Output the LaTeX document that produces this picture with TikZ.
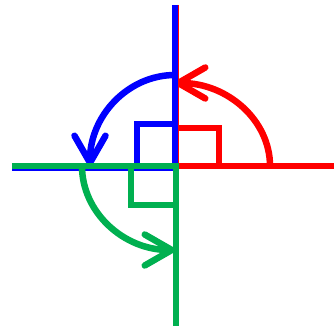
\documentclass[tikz,border=0pt]{standalone}
\usepackage{xcolor}
\usepackage{tikz}
\usetikzlibrary{arrows.meta}
\definecolor{redc}{HTML}{FF0000}
\definecolor{bluec}{HTML}{0000FF}
\definecolor{greenc}{HTML}{00B050}
\tikzset{
  axl/.style={line width=6.5pt},
  sq/.style={line width=6pt},
  turn/.style={line width=6.5pt,-{Straight Barb[length=27pt,width=31pt,line cap=round,round]}}
}
\begin{document}
\begin{tikzpicture}[x=1pt,y=1pt]
\useasboundingbox[fill=white] (-175,-163) rectangle (159,166);
\coordinate (O) at (0,0);
% red quarter
\draw[axl,redc] (1.2,161)--(1.2,0)--(159,0);
\draw[sq,redc] (0,38)--(44,38)--(44,0);
\draw[turn,redc] (95,0) arc[start angle=0,end angle=90,x radius=95,y radius=83];
% blue quarter
\draw[axl,bluec] (O)++(0,161)--(0,-1.5)--(-163,-1.5);
\draw[sq,bluec] (-38,0)--(-38,42)--(0,42);
\draw[turn,bluec] (0,91) arc[start angle=90,end angle=180,x radius=85,y radius=91];
% green quarter
\draw[axl,greenc] (-163,0)--(1,0)--(1,-160);
\draw[sq,greenc] (-44,0)--(-44,-39)--(0,-39);
\draw[turn,greenc] (-93,0) arc[start angle=180,end angle=270,x radius=93,y radius=84];
\end{tikzpicture}
\end{document}
